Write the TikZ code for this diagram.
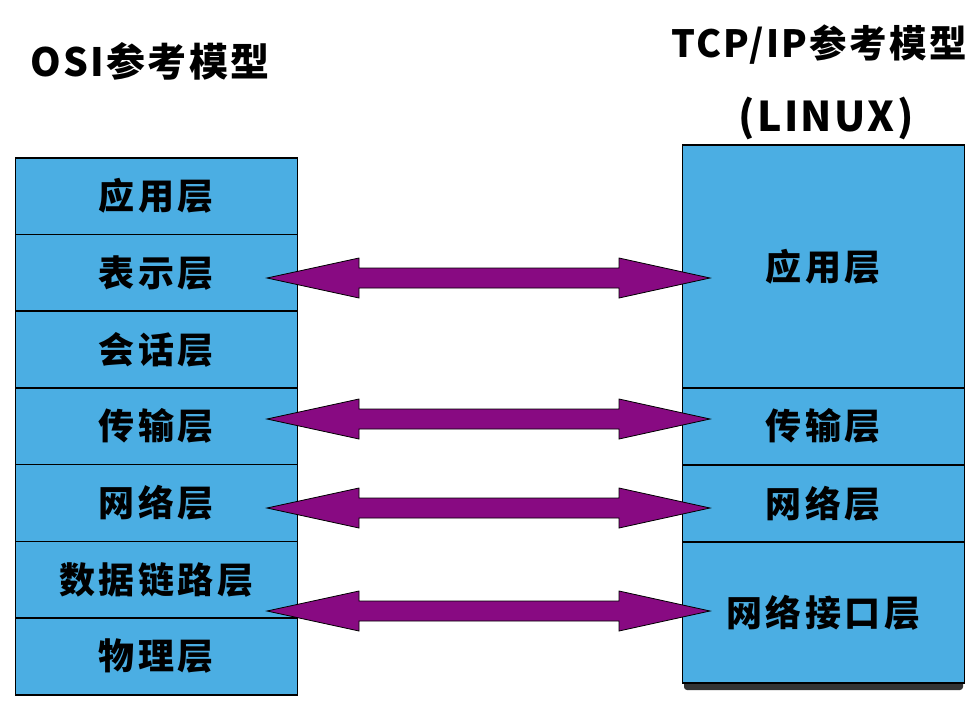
\documentclass[tikz,border=0pt]{standalone}
\usepackage{fontspec}
\newfontfamily\cjk{Noto Sans CJK SC}
\newfontfamily\cjksp{Noto Sans CJK SC}[LetterSpace=10]
\newfontfamily\cjkt{Noto Sans CJK SC}[LetterSpace=6]
\usetikzlibrary{calc}
\definecolor{layerblue}{HTML}{4BAEE3}
\definecolor{arrpurple}{HTML}{880A82}
\tikzset{
  layer/.style={draw=black, line width=1.6pt, fill=layerblue, minimum width=282pt, inner sep=0pt, font=\cjksp\bfseries\fontsize{36}{40}\selectfont, text=black},
  arr/.style={fill=arrpurple, draw=black, line width=0.8pt, line join=miter},
  title/.style={font=\cjkt\bfseries\fontsize{39}{44}\selectfont, text=black, inner sep=0pt}
}
\newcommand\dblarr[2]{\filldraw[arr] (#1) -- ($(#1)+(92,-20)$) -- ($(#1)+(92,-10)$) -- ($(#2)+(-91,-10)$) -- ($(#2)+(-91,-20)$) -- (#2) -- ($(#2)+(-91,20)$) -- ($(#2)+(-91,10)$) -- ($(#1)+(92,10)$) -- ($(#1)+(92,20)$) -- cycle;}
\begin{document}
\begin{tikzpicture}[x=1pt,y=-1pt]
\useasboundingbox (0,0) rectangle (975,707);
% titles
\node[title, anchor=west] (osi) at (30,61) {OSI参考模型};
\node[title, font=\cjkt\bfseries\fontsize{37.5}{42}\selectfont] (tcp) at (819,45) {TCP/IP参考模型};
\node[title, font=\cjkt\bfseries\fontsize{41}{46}\selectfont] (linux) at (826,118) {(LINUX)};
% left stack
\foreach \n/\t [count=\i from 0] in {l1/应用层,l2/表示层,l3/会话层,l4/传输层,l5/网络层,l6/数据链路层,l7/物理层}{
  \node[layer, minimum height=76.7pt, anchor=north west] (\n) at (14.5,157+76.7*\i) {\t};
}
% right stack shadow
\fill[black!80, rounded corners=3pt] (684,676) rectangle (963,690);
\node[layer, minimum height=243pt, anchor=north west] (r1) at (681.5,144) {应用层};
\node[layer, minimum height=77pt, anchor=north west] (r2) at (681.5,387) {传输层};
\node[layer, minimum height=77pt, anchor=north west] (r3) at (681.5,464) {网络层};
\node[layer, minimum height=141pt, anchor=north west] (r4) at (681.5,541) {网络接口层};
% arrows
\coordinate (a1l) at (267,278); \coordinate (a1r) at (710,278);
\coordinate (a2l) at (267,419); \coordinate (a2r) at (710,419);
\coordinate (a3l) at (267,508); \coordinate (a3r) at (710,508);
\coordinate (a4l) at (267,611); \coordinate (a4r) at (710,611);
\dblarr{a1l}{a1r}
\dblarr{a2l}{a2r}
\dblarr{a3l}{a3r}
\dblarr{a4l}{a4r}
\end{tikzpicture}
\end{document}
